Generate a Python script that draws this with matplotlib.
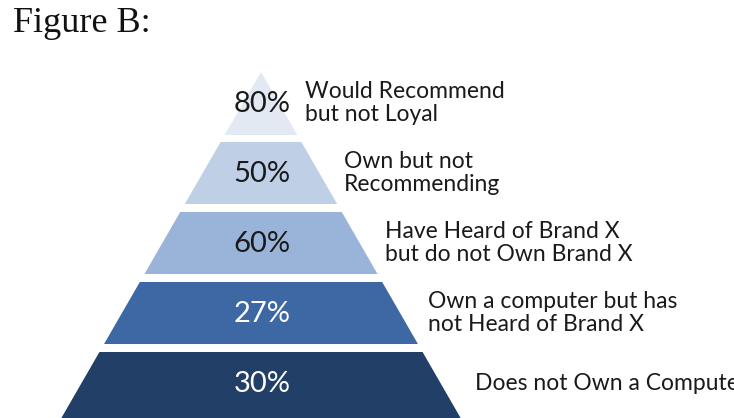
import matplotlib
matplotlib.use("Agg")
import matplotlib.pyplot as plt
from matplotlib.patches import Polygon

# Data (top to bottom)
values = ["80%", "50%", "60%", "27%", "30%"]
categories = [
    "Would Recommend\nbut not Loyal",
    "Own but not\nRecommending",
    "Have Heard of Brand X\nbut do not Own Brand X",
    "Own a computer but has\nnot Heard of Brand X",
    "Does not Own a Computer",
]
title = "Figure B:"

# Styles
fill_colors = ["#e3e9f3", "#bfcfe6", "#9ab4d9", "#3d68a3", "#223f68"]
value_colors = ["#1a1a1a", "#1a1a1a", "#1a1a1a", "#ffffff", "#ffffff"]

W, H = 734, 418
fig = plt.figure(figsize=(W / 100, H / 100), dpi=100)
ax = fig.add_axes([0, 0, 1, 1])
ax.set_xlim(0, W)
ax.set_ylim(H, 0)
ax.axis("off")

# Pyramid geometry (pixel-like axis units)
cx = 261.0
apex_y = 72.0
slope = 0.577   # half-width per unit height
layer_h = 62.0
gap = 8.0
label_off = [26, 25, 25, 28, 35]

def half_w(y):
    return slope * (y - apex_y)

for i, (val, cat) in enumerate(zip(values, categories)):
    y0 = apex_y + i * (layer_h + gap)
    y1 = y0 + layer_h + (1.0 if i == 0 else 0.0)
    if i == len(values) - 1:
        y1 = H + 2
    w0, w1 = half_w(y0), half_w(y1)
    poly = Polygon([(cx - w0, y0), (cx + w0, y0), (cx + w1, y1), (cx - w1, y1)],
                   closed=True, facecolor=fill_colors[i], edgecolor="none")
    ax.add_patch(poly)
    ym = (y0 + min(y1, apex_y + i * (layer_h + gap) + layer_h)) / 2
    ax.text(cx + 1, ym + 1, val, ha="center", va="center", fontsize=21,
            color=value_colors[i], family="Lato")
    ax.text(cx + half_w(ym) + label_off[i], ym, cat, ha="left", va="center",
            fontsize=16.5, color="#1a1a1a", family="Lato",
            linespacing=1.1)

fig.text(13 / W, 1 - 7 / H, title, ha="left", va="top", fontsize=26,
         family="Liberation Serif", color="#111111")

fig.savefig("out.png", dpi=100, facecolor="white")
